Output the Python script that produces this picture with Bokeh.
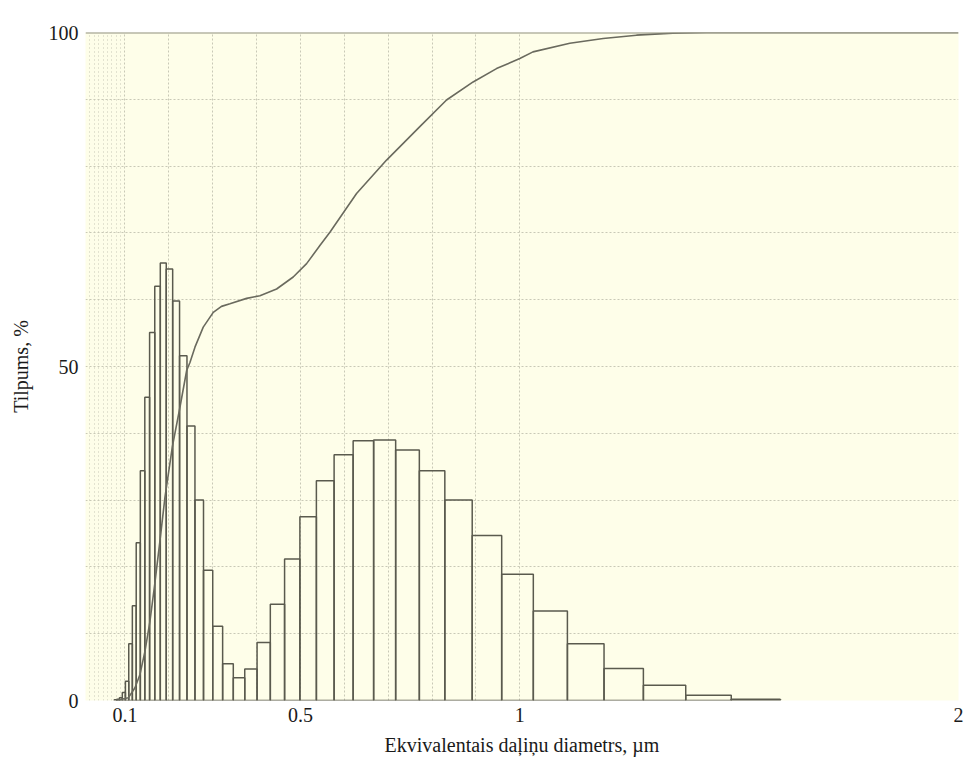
from bokeh.plotting import figure
from bokeh.models import FixedTicker, Grid, Span
from bokeh.embed import file_html
from bokeh.resources import INLINE

# ---- data ----
bin_edges = [0.0755, 0.0812, 0.0873, 0.0939, 0.1010, 0.1086, 0.1168, 0.1256, 0.1350,
             0.1452, 0.1561, 0.1679, 0.1805, 0.1941, 0.2087, 0.2244, 0.2413, 0.2595,
             0.2790, 0.3000, 0.3226, 0.3469, 0.3730, 0.4011, 0.4313, 0.4638, 0.4987,
             0.5363, 0.5767, 0.6201, 0.6668, 0.7170, 0.7710, 0.8291, 0.8915, 0.9587,
             1.0308, 1.1085, 1.1920, 1.2817, 1.3782, 1.4820, 1.5936]
bin_heights = [0.1, 0.2, 0.4, 1.2, 2.9, 8.5, 14.2, 23.6, 34.4, 45.4, 55.1, 62.0, 65.5,
               64.6, 59.8, 51.6, 41.1, 30.0, 19.5, 11.1, 5.5, 3.4, 4.7, 8.7, 14.4, 21.2,
               27.5, 32.9, 36.8, 38.9, 39.0, 37.5, 34.4, 30.0, 24.7, 18.9, 13.4, 8.5,
               4.8, 2.3, 0.8, 0.2]
cum_x = [0.0800, 0.0925, 0.1075, 0.1228, 0.1342, 0.1456, 0.1570, 0.1680, 0.1797, 0.1911,
         0.2080, 0.2253, 0.2406, 0.2481, 0.2595, 0.2784, 0.3012, 0.3200, 0.3392, 0.3773,
         0.4076, 0.4456, 0.4835, 0.5140, 0.5443, 0.5671, 0.6279, 0.6963, 0.7721, 0.8330,
         0.8936, 0.9469, 1.0000, 1.0300, 1.1140, 1.1900, 1.2660, 1.3490, 1.4250, 2.0000]
cum_y = [0.0, 0.2, 0.4, 1.9, 3.9, 7.4, 11.9, 17.5, 23.9, 30.4,
         38.0, 43.9, 49.4, 50.6, 52.9, 55.9, 58.1, 59.0, 59.4, 60.2,
         60.6, 61.6, 63.4, 65.4, 68.1, 70.1, 75.9, 80.9, 85.9, 89.9,
         92.6, 94.6, 96.1, 97.1, 98.4, 99.1, 99.6, 99.9, 100.0, 100.0]
x_tick_values = [0.1, 0.5, 1, 2]
x_tick_labels = {0.1: "0.1", 0.5: "0.5", 1: "1", 2: "2"}
y_tick_values = [0, 50, 100]
x_title = "Ekvivalentais daļiņu diametrs, µm"
y_title = "Tilpums, %"

FONT = "Liberation Serif"
GRID = "#c9c9b6"

p = figure(frame_width=873, frame_height=668,
           x_range=(0.01, 2), y_range=(0, 100),
           output_backend="svg", toolbar_location=None,
           min_border_left=85, min_border_right=9, min_border_top=32, min_border_bottom=69,
           background_fill_color="#fefee9", border_fill_color="white")
p.outline_line_color = None

# grids
p.xgrid.ticker = FixedTicker(ticks=[0.1, 0.2, 0.3, 0.4, 0.5, 0.6, 0.7, 0.8, 0.9, 1.0])
p.xgrid.grid_line_color = GRID
p.xgrid.grid_line_dash = "2 2"
p.ygrid.ticker = FixedTicker(ticks=[10, 20, 30, 40, 50, 60, 70, 80, 90])
p.ygrid.grid_line_color = GRID
p.ygrid.grid_line_dash = "2 2"
band = Grid(dimension=0,
            ticker=FixedTicker(ticks=[], minor_ticks=[0.02, 0.03, 0.04, 0.05, 0.06, 0.07, 0.08, 0.09]),
            grid_line_color=None, minor_grid_line_color=GRID, minor_grid_line_dash="1 3")
p.add_layout(band)

p.add_layout(Span(location=100, dimension="width", line_color="#8f8f80", line_width=2))

# histogram
p.quad(left=bin_edges[:-1], right=bin_edges[1:], bottom=0, top=bin_heights,
       fill_color=None, line_color="#5a5a4e", line_width=1.5)
# cumulative curve
p.line(cum_x, cum_y, line_color="#6a6a5e", line_width=1.6)

# axes
for ax in (p.xaxis[0], p.yaxis[0]):
    ax.axis_line_color = None
    ax.major_tick_line_color = None
    ax.minor_tick_line_color = None
    ax.major_tick_out = 0
    ax.major_tick_in = 0
    ax.major_label_text_font = FONT
    ax.major_label_text_font_size = "20px"
    ax.major_label_text_color = "#1a1a1a"
    ax.axis_label_text_font = FONT
    ax.axis_label_text_font_size = "20px"
    ax.axis_label_text_font_style = "normal"
    ax.axis_label_text_color = "#1a1a1a"

p.xaxis.ticker = FixedTicker(ticks=x_tick_values)
p.xaxis.major_label_overrides = x_tick_labels
p.xaxis.major_label_standoff = 7
p.xaxis.axis_label = x_title
p.xaxis.axis_label_standoff = 9

p.yaxis.ticker = FixedTicker(ticks=y_tick_values)
p.yaxis.major_label_standoff = 7
p.yaxis.axis_label = y_title
p.yaxis.axis_label_standoff = 14

open("out.html", "w").write(file_html(p, INLINE))
